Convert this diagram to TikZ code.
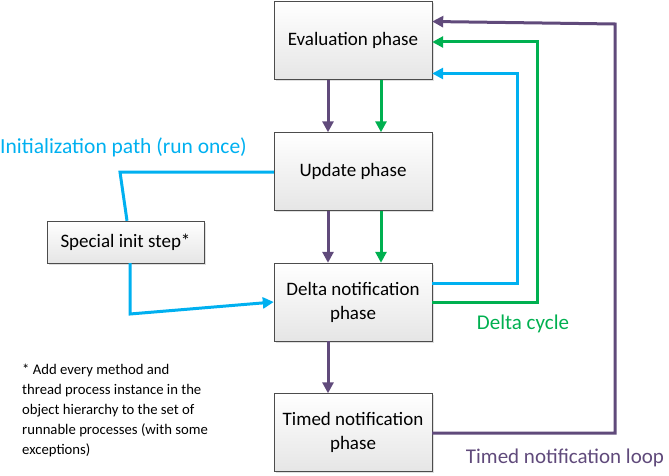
\documentclass[tikz,border=0pt]{standalone}
\usepackage{fontspec}
\setmainfont{Carlito}
\usetikzlibrary{arrows.meta,shadows}

\definecolor{loopviolet}{HTML}{604A7B}
\definecolor{deltagreen}{HTML}{00B050}
\definecolor{initblue}{HTML}{00B0F0}

\begin{document}
\begin{tikzpicture}[x=1pt,y=-1pt,
  phase/.style={draw=black!70, top color=white, bottom color=black!10,
    drop shadow={shadow xshift=1.5pt,shadow yshift=-1.5pt,opacity=0.25},
    minimum width=158pt, minimum height=78pt, align=center,
    font=\fontsize{19}{24}\selectfont, inner sep=2pt},
  tip/.style={-{Triangle[length=11pt,width=11pt]}},
  violetline/.style={line width=3pt, draw=loopviolet},
  greenline/.style={line width=3pt, draw=deltagreen},
  blueline/.style={line width=3pt, draw=initblue}]

\useasboundingbox (0,0) rectangle (669,476);

\node[phase] (eval) at (353,40.5) {Evaluation phase};
\node[phase] (update) at (353,171.5) {Update phase};
\node[phase] (delta) at (353,302) {Delta notification\\phase};
\node[phase] (timed) at (353,432.5) {Timed notification\\phase};
\node[phase, minimum width=157pt, minimum height=42pt] (special) at (125.5,242) {Special init step*};

\draw[violetline,tip] ([xshift=-25pt]eval.south) -- ([xshift=-25pt]update.north);
\draw[greenline,tip] ([xshift=28pt]eval.south) -- ([xshift=28pt]update.north);
\draw[violetline,tip] ([xshift=-25pt]update.south) -- ([xshift=-25pt]delta.north);
\draw[greenline,tip] ([xshift=28pt]update.south) -- ([xshift=28pt]delta.north);
\draw[violetline,tip] ([xshift=-25pt]delta.south) -- ([xshift=-25pt]timed.north);

\draw[blueline,tip] (delta.east |- 0,283) -| (517,73.5) -- (eval.east |- 0,73.5);
\draw[greenline,tip] (delta.east |- 0,302) -| (537,42) -- (eval.east |- 0,42);
\draw[violetline,tip] (timed.east |- 0,433) -| (615,24) -- (eval.east |- 0,21.5);

\draw[blueline] (update.west |- 0,172) -- (120,172) -- ([xshift=1.5pt]special.north);
\draw[blueline,tip] ([xshift=4.5pt]special.south) -- (130,314) -- (delta.west |- 0,302);

\node[anchor=west, text=initblue, font=\fontsize{21.5}{26}\selectfont, inner sep=0pt] (initlabel) at (0,147) {Initialization path (run once)};
\node[text=deltagreen, font=\fontsize{21}{26}\selectfont] (deltalabel) at (523,324) {Delta cycle};
\node[text=loopviolet, font=\fontsize{21}{26}\selectfont] (timedlabel) at (565,458) {Timed notification loop};
\node[anchor=north west, align=left, font=\fontsize{14.7}{20}\selectfont, inner sep=0pt] (footnote) at (22,364)
  {* Add every method and\\thread process instance in the\\object hierarchy to the set of\\runnable processes (with some\\exceptions)};

\end{tikzpicture}
\end{document}
